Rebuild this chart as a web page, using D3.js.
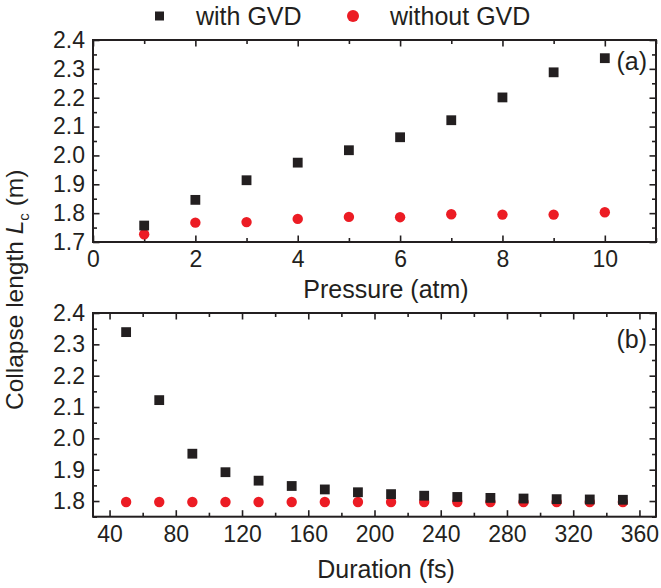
<!DOCTYPE html>
<html>
<head>
<meta charset="utf-8">
<script src="https://cdn.jsdelivr.net/npm/d3@7"></script>
<style>
  html, body { margin: 0; padding: 0; background: #fff; }
  svg { display: block; font-family: "Liberation Sans", Arial, sans-serif; }
  .tick text { fill: #231f20; }
</style>
</head>
<body>
<svg id="chart" width="661" height="588"></svg>
<script>
// Panel (a): collapse length versus gas pressure
const pressure = [1, 2, 3, 4, 5, 6, 7, 8, 9, 10];
const pressureWithGVD = [1.757, 1.846, 1.914, 1.975, 2.018, 2.063, 2.122, 2.201, 2.288, 2.337];
const pressureWithoutGVD = [1.727, 1.767, 1.769, 1.780, 1.787, 1.786, 1.796, 1.795, 1.795, 1.803];

// Panel (b): collapse length versus pulse duration
const duration = [50, 70, 90, 110, 130, 150, 170, 190, 210, 230, 250, 270, 290, 310, 330, 350];
const durationWithGVD = [2.339, 2.122, 1.951, 1.892, 1.865, 1.848, 1.837, 1.828, 1.822, 1.817, 1.813, 1.810, 1.808, 1.806, 1.805, 1.804];
const durationWithoutGVD = [1.797, 1.797, 1.797, 1.797, 1.797, 1.797, 1.797, 1.797, 1.797, 1.797, 1.797, 1.797, 1.797, 1.797, 1.797, 1.797];

// Tick values
const pressureTicks = [0, 2, 4, 6, 8, 10];
const pressureMinor = [1, 3, 5, 7, 9, 11];
const lengthTicksA = [1.7, 1.8, 1.9, 2.0, 2.1, 2.2, 2.3, 2.4];
const lengthMinorA = [1.75, 1.85, 1.95, 2.05, 2.15, 2.25, 2.35];
const durationTicks = [40, 80, 120, 160, 200, 240, 280, 320, 360];
const durationMinor = [60, 100, 140, 180, 220, 260, 300, 340];
const lengthTicksB = [1.8, 1.9, 2.0, 2.1, 2.2, 2.3, 2.4];
const lengthMinorB = [1.75, 1.85, 1.95, 2.05, 2.15, 2.25, 2.35];

const seriesNames = ["with GVD", "without GVD"];

const INK = "#231f20";
const RED = "#ec1c24";
const svg = d3.select("#chart");

const left = 93, right = 656;

function panel(cfg) {
  const g = svg.append("g");
  const x = d3.scaleLinear(cfg.xDomain, [left, right]);
  const y = d3.scaleLinear(cfg.yDomain, [cfg.bottom, cfg.top]);

  function axis(gen, transform, labels) {
    const a = g.append("g").attr("transform", transform).call(gen);
    a.select(".domain").remove();
    a.selectAll(".tick line").attr("stroke", INK).attr("stroke-width", 1.6);
    a.selectAll(".tick text").attr("font-size", 23).attr("font-family", "Liberation Sans, Arial, sans-serif");
    if (!labels) a.selectAll(".tick text").remove();
    return a;
  }

  // bottom / top x ticks (inward)
  axis(d3.axisBottom(x).tickValues(cfg.xTicks).tickSize(-6.5).tickPadding(9).tickFormat(cfg.xFormat), `translate(0,${cfg.bottom})`, true);
  axis(d3.axisBottom(x).tickValues(cfg.xMinor).tickSize(-4).tickFormat(""), `translate(0,${cfg.bottom})`, false);
  axis(d3.axisTop(x).tickValues(cfg.xTicks).tickSize(-6.5).tickFormat(""), `translate(0,${cfg.top})`, false);
  axis(d3.axisTop(x).tickValues(cfg.xMinor).tickSize(-4).tickFormat(""), `translate(0,${cfg.top})`, false);
  // left / right y ticks (inward)
  axis(d3.axisLeft(y).tickValues(cfg.yTicks).tickSize(-6.5).tickPadding(8).tickFormat(d3.format(".1f")), `translate(${left},0)`, true);
  axis(d3.axisLeft(y).tickValues(cfg.yMinor).tickSize(-4).tickFormat(""), `translate(${left},0)`, false);
  axis(d3.axisRight(y).tickValues(cfg.yTicks).tickSize(-6.5).tickFormat(""), `translate(${right},0)`, false);
  axis(d3.axisRight(y).tickValues(cfg.yMinor).tickSize(-4).tickFormat(""), `translate(${right},0)`, false);

  // frame
  g.append("rect")
    .attr("x", left).attr("y", cfg.top)
    .attr("width", right - left).attr("height", cfg.bottom - cfg.top)
    .attr("fill", "none").attr("stroke", INK).attr("stroke-width", 2);

  // without GVD: red circles
  g.append("g").selectAll("circle")
    .data(cfg.xs.map((v, i) => [v, cfg.without[i]]))
    .join("circle")
    .attr("cx", d => x(d[0])).attr("cy", d => y(d[1]))
    .attr("r", 5.2).attr("fill", RED);

  // with GVD: black squares
  const s = 9.8;
  g.append("g").selectAll("rect")
    .data(cfg.xs.map((v, i) => [v, cfg.with[i]]))
    .join("rect")
    .attr("x", d => x(d[0]) - s / 2).attr("y", d => y(d[1]) - s / 2)
    .attr("width", s).attr("height", s).attr("fill", INK);

  // panel tag
  g.append("text")
    .attr("x", 647).attr("y", cfg.top + cfg.tagDy)
    .attr("text-anchor", "end").attr("font-size", 25).attr("fill", INK)
    .text(cfg.tag);

  // x title
  g.append("text")
    .attr("x", 386).attr("y", cfg.titleY)
    .attr("text-anchor", "middle").attr("font-size", 25).attr("fill", INK)
    .text(cfg.title);
}

panel({
  xDomain: [0, 11], yDomain: [1.7, 2.4], top: 40, bottom: 242,
  xTicks: pressureTicks, xMinor: pressureMinor, xFormat: d3.format("d"),
  yTicks: lengthTicksA, yMinor: lengthMinorA,
  xs: pressure, with: pressureWithGVD, without: pressureWithoutGVD,
  tag: "(a)", tagDy: 30, title: "Pressure (atm)", titleY: 298
});

panel({
  xDomain: [30, 370], yDomain: [1.75, 2.4], top: 313, bottom: 516.7,
  xTicks: durationTicks, xMinor: durationMinor, xFormat: d3.format("d"),
  yTicks: lengthTicksB, yMinor: lengthMinorB,
  xs: duration, with: durationWithGVD, without: durationWithoutGVD,
  tag: "(b)", tagDy: 35, title: "Duration (fs)", titleY: 578
});

// shared y-axis title
const yt = svg.append("text")
  .attr("transform", "translate(23,410) rotate(-90)")
  .attr("text-anchor", "start").attr("font-size", 24.5).attr("fill", INK);
yt.append("tspan").text("Collapse length ");
yt.append("tspan").attr("font-style", "italic").text("L");
yt.append("tspan").attr("font-size", 15).attr("dy", 6).text("c");
yt.append("tspan").attr("dy", -6).text(" (m)");

// legend
const legend = svg.append("g");
legend.append("rect").attr("x", 155).attr("y", 11.5).attr("width", 9).attr("height", 9).attr("fill", INK);
legend.append("text").attr("x", 196).attr("y", 25).attr("font-size", 25).attr("fill", INK).text(seriesNames[0]);
legend.append("circle").attr("cx", 353).attr("cy", 16).attr("r", 6).attr("fill", RED);
legend.append("text").attr("x", 390).attr("y", 25).attr("font-size", 25).attr("fill", INK).text(seriesNames[1]);
</script>
</body>
</html>
